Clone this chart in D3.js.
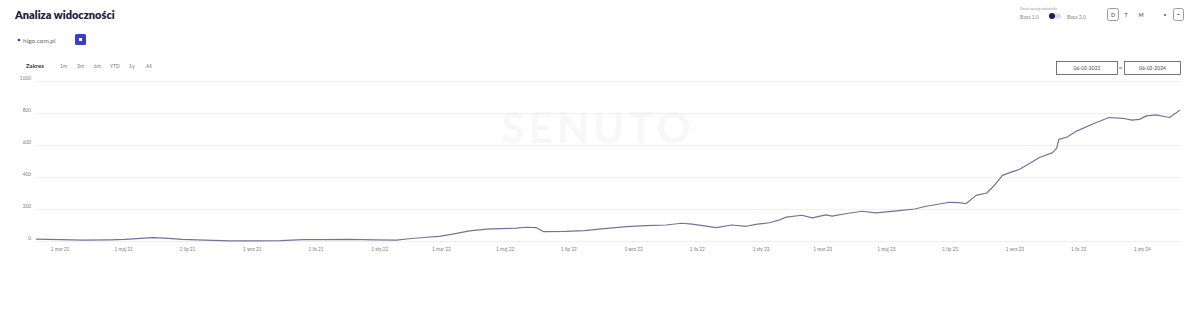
<!DOCTYPE html>
<html>
<head>
<meta charset="utf-8">
<script src="https://cdn.jsdelivr.net/npm/d3@7"></script>
<style>
  body { margin: 0; background: #fff; font-family: "Lato", "Noto Sans", sans-serif; }
</style>
</head>
<body>
<div id="container"></div>
<script>
// visibility data for higo.com.pl
const dates = ["2021-02-06","2021-03-01","2021-03-23","2021-04-18","2021-05-02","2021-05-17","2021-05-29","2021-06-09","2021-06-26","2021-07-17","2021-08-11","2021-09-04","2021-09-28","2021-10-20","2021-11-10","2021-12-01","2021-12-28","2022-01-17","2022-01-29","2022-02-12","2022-02-27","2022-03-13","2022-03-28","2022-04-13","2022-04-27","2022-05-12","2022-05-21","2022-05-31","2022-06-07","2022-06-28","2022-07-16","2022-07-30","2022-08-25","2022-09-13","2022-10-02","2022-10-17","2022-10-27","2022-11-06","2022-11-19","2022-12-04","2022-12-18","2022-12-27","2023-01-09","2023-01-18","2023-01-25","2023-02-09","2023-02-19","2023-03-04","2023-03-10","2023-03-24","2023-04-08","2023-04-21","2023-05-13","2023-05-28","2023-06-08","2023-06-18","2023-06-30","2023-07-10","2023-07-16","2023-07-26","2023-08-05","2023-08-12","2023-08-20","2023-08-29","2023-09-05","2023-09-15","2023-09-24","2023-10-07","2023-10-11","2023-10-13","2023-10-21","2023-10-30","2023-11-14","2023-11-30","2023-12-13","2023-12-22","2023-12-29","2024-01-05","2024-01-14","2024-01-27","2024-02-06"];
const values = [12,9,5,7,10,17,21,18,10,5,1,1,2,8,8,10,7,5,14,22,29,45,63,74,77,80,86,83,58,60,65,74,90,96,100,111,106,96,84,100,92,104,114,130,149,161,145,163,155,172,186,176,190,200,217,228,242,240,233,285,300,345,410,432,447,485,520,552,580,635,650,687,730,772,767,755,760,782,788,772,818];

const yTicks = [0, 200, 400, 600, 800, 1000];
const xTickLabels = ["1 mar 21","1 maj 21","1 lip 21","1 wrz 21","1 lis 21","1 sty 22","1 mar 22","1 maj 22","1 lip 22","1 wrz 22","1 lis 22","1 sty 23","1 mar 23","1 maj 23","1 lip 23","1 wrz 23","1 lis 23","1 sty 24"];
const rangeButtons = ["1m","3m","6m","YTD","1y","All"];
const startLabel = "06-02-2021";
const endLabel = "06-02-2024";

const parse = d3.timeParse("%Y-%m-%d");
const data = dates.map((d, i) => ({ date: parse(d), value: values[i] }));

const width = 1200, height = 310;
const svg = d3.create("svg").attr("width", width).attr("height", height);

// header
svg.append("text").attr("x", 15).attr("y", 19)
  .attr("font-size", 11).attr("font-weight", 800).attr("fill", "#22223f")
  .text("Analiza widoczności");

svg.append("circle").attr("cx", 19).attr("cy", 40).attr("r", 1.3).attr("fill", "#3437c9");
svg.append("text").attr("x", 23).attr("y", 42.5)
  .attr("font-size", 6.5).attr("fill", "#6a6a6a").text("higo.com.pl");
svg.append("rect").attr("x", 75).attr("y", 34).attr("width", 11).attr("height", 11)
  .attr("rx", 1.5).attr("fill", "#3a3dcc");
svg.append("rect").attr("x", 79).attr("y", 38).attr("width", 3).attr("height", 3).attr("fill", "#fff");

svg.append("text").attr("x", 26).attr("y", 68)
  .attr("font-size", 6).attr("font-weight", 700).attr("fill", "#333").text("Zakres");
const btnX = [60, 77, 94, 110, 129, 146];
svg.selectAll(".rb").data(rangeButtons).join("text")
  .attr("x", (d, i) => btnX[i]).attr("y", 68)
  .attr("font-size", 5).attr("fill", "#777").text(d => d);

// top right controls
svg.append("text").attr("x", 1020).attr("y", 10)
  .attr("font-size", 3.5).attr("fill", "#999").text("Zmień wersję wskaźnika");
svg.append("text").attr("x", 1020).attr("y", 18.5)
  .attr("font-size", 5).attr("fill", "#888").text("Baza 1.0");
svg.append("rect").attr("x", 1049).attr("y", 13.5).attr("width", 12).attr("height", 5)
  .attr("rx", 2.5).attr("fill", "#d8d9f2");
svg.append("circle").attr("cx", 1052).attr("cy", 16).attr("r", 3).attr("fill", "#1b1b55");
svg.append("text").attr("x", 1067).attr("y", 18.5)
  .attr("font-size", 5).attr("fill", "#888").text("Baza 2.0");
svg.append("rect").attr("x", 1107.5).attr("y", 8.5).attr("width", 11).attr("height", 12)
  .attr("rx", 2).attr("fill", "none").attr("stroke", "#9a9ab8");
svg.append("text").attr("x", 1113).attr("y", 16.5).attr("text-anchor", "middle")
  .attr("font-size", 5.5).attr("fill", "#444").text("D");
svg.append("text").attr("x", 1126).attr("y", 16.5).attr("text-anchor", "middle")
  .attr("font-size", 5.5).attr("fill", "#444").text("T");
svg.append("text").attr("x", 1141).attr("y", 16.5).attr("text-anchor", "middle")
  .attr("font-size", 5.5).attr("fill", "#444").text("M");
svg.append("circle").attr("cx", 1165).attr("cy", 15).attr("r", 0.9).attr("fill", "#444");
svg.append("rect").attr("x", 1173.5).attr("y", 8.5).attr("width", 10).attr("height", 12)
  .attr("rx", 2).attr("fill", "none").attr("stroke", "#9a9ab8");
svg.append("line").attr("x1", 1177).attr("x2", 1180).attr("y1", 14.5).attr("y2", 14.5)
  .attr("stroke", "#777").attr("stroke-width", 0.8);

// date range boxes
svg.append("rect").attr("x", 1056.5).attr("y", 61.5).attr("width", 61).attr("height", 13)
  .attr("fill", "#fff").attr("stroke", "#555").attr("stroke-width", 0.8);
svg.append("text").attr("x", 1087).attr("y", 70).attr("text-anchor", "middle")
  .attr("font-size", 5).attr("fill", "#444").text(startLabel);
svg.append("line").attr("x1", 1119).attr("x2", 1122).attr("y1", 68).attr("y2", 68)
  .attr("stroke", "#444").attr("stroke-width", 0.8);
svg.append("rect").attr("x", 1124.5).attr("y", 61.5).attr("width", 56).attr("height", 13)
  .attr("fill", "#fff").attr("stroke", "#555").attr("stroke-width", 0.8);
svg.append("text").attr("x", 1152.5).attr("y", 70).attr("text-anchor", "middle")
  .attr("font-size", 5).attr("fill", "#444").text(endLabel);

// scales
const x = d3.scaleTime()
  .domain([parse("2021-02-06"), parse("2024-02-06")])
  .range([36, 1180]);
const y = d3.scaleLinear().domain([0, 1000]).range([241, 81]);

// watermark
svg.append("text").attr("x", 598).attr("y", 143).attr("text-anchor", "middle")
  .attr("font-size", 42).attr("font-weight", 700).attr("letter-spacing", 4)
  .attr("fill", "#f7f7f9").text("SENUTO");

// grid + y labels
svg.append("g").selectAll("line").data(yTicks).join("line")
  .attr("x1", 36).attr("x2", 1181)
  .attr("y1", d => Math.round(y(d)) + 0.5).attr("y2", d => Math.round(y(d)) + 0.5)
  .attr("stroke", "#efefef").attr("stroke-width", 1);
svg.append("g").selectAll("text").data(yTicks).join("text")
  .attr("x", 31).attr("y", d => y(d) - 1).attr("text-anchor", "end")
  .attr("font-size", 4.8).attr("fill", "#808080").text(d => d);

// x tick labels: first day of every other month
const tickDates = d3.timeMonth.every(2).range(parse("2021-03-01"), parse("2024-01-02"));
svg.append("g").selectAll("text").data(tickDates).join("text")
  .attr("x", d => x(d)).attr("y", 251).attr("text-anchor", "middle")
  .attr("font-size", 4.8).attr("fill", "#808080").text((d, i) => xTickLabels[i]);

// line
const line = d3.line().x(d => x(d.date)).y(d => y(d.value)).curve(d3.curveLinear);
svg.append("path").datum(data)
  .attr("d", line).attr("fill", "none")
  .attr("stroke", "#72729c").attr("stroke-width", 1.2).attr("stroke-linejoin", "round");

document.getElementById("container").append(svg.node());
</script>
</body>
</html>
